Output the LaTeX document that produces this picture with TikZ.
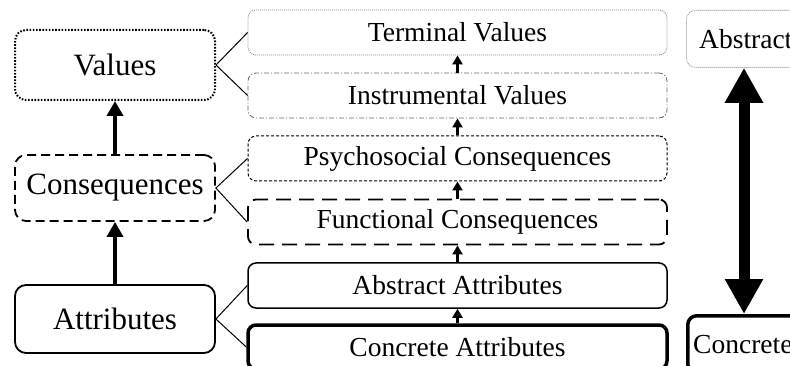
\documentclass[tikz,border=0pt]{standalone}
\usepackage{fontspec}
\setmainfont{Liberation Serif}
\usetikzlibrary{arrows.meta}

\tikzset{
  lbox/.style={draw, rounded corners=11pt, minimum width=200pt, inner sep=0pt,
    font=\fontsize{31}{34}\selectfont},
  rbox/.style={draw, rounded corners=8pt, minimum width=419pt, minimum height=45pt,
    inner sep=0pt, font=\fontsize{27.5}{30}\selectfont},
  sidebox/.style={draw, rounded corners=9pt, minimum width=220pt, minimum height=57pt,
    inner sep=0pt, anchor=north west},
  sidetext/.style={anchor=west, inner sep=0pt, font=\fontsize{27.5}{30}\selectfont},
  faint/.style={draw=black!45, line width=0.8pt, dash pattern=on 1pt off 1pt},
  dashdot/.style={draw=black!60, line width=0.8pt, dash pattern=on 5pt off 2pt on 1pt off 2pt},
  fine dash/.style={line width=1pt, dash pattern=on 3pt off 2pt},
  long dash/.style={line width=1.8pt, dash pattern=on 15pt off 8pt},
  dot line/.style={line width=2pt, dash pattern=on 1.6pt off 1.6pt},
  mid dash/.style={line width=1.8pt, dash pattern=on 9pt off 5pt},
  link/.style={line width=1pt},
  bigup/.style={line width=4.5pt, -{Triangle[width=16pt,length=15pt]}},
  smallup/.style={line width=2.5pt, -{Triangle[width=10pt,length=9pt]}},
  bothways/.style={line width=11pt, {Triangle[width=36pt,length=35pt]}-{Triangle[width=36pt,length=35pt]}}
}

\begin{document}
\begin{tikzpicture}[x=1pt, y=-1pt]
  \useasboundingbox (0,0) rectangle (790,366);

  % three main levels
  \node (val) [lbox, dot line, minimum height=70pt] at (115,65) {Values};
  \node (con) [lbox, mid dash, minimum height=66pt] at (115,188) {Consequences};
  \node (att) [lbox, line width=1.8pt, minimum height=68pt] at (115,319) {Attributes};

  \draw[bigup] (con.north) -- (val.south);
  \draw[bigup] (att.north) -- (con.south);

  % six sub-levels
  \node (tv) [rbox, faint] at (457.5,32.5) {Terminal Values};
  \node (iv) [rbox, dashdot] at (457.5,95.5) {Instrumental Values};
  \node (pc) [rbox, fine dash] at (457.5,158.5) {Psychosocial Consequences};
  \node (fc) [rbox, long dash] at (457.5,222) {Functional Consequences};
  \node (aa) [rbox, line width=1.5pt] at (457.5,285.5) {Abstract Attributes};
  \node (ca) [rbox, line width=3.5pt, minimum height=44pt] at (457.5,347) {Concrete Attributes};

  \draw[smallup] (iv.north) -- (tv.south);
  \draw[smallup] (pc.north) -- (iv.south);
  \draw[smallup] (fc.north) -- (pc.south);
  \draw[smallup] (aa.north) -- (fc.south);
  \draw[smallup] (ca.north) -- (aa.south);

  % links from each level to its two sub-levels
  \draw[link] (tv.west) -- (val.east) -- (iv.west);
  \draw[link] (pc.west) -- (con.east) -- (fc.west);
  \draw[link] (aa.west) -- (att.east) -- (ca.west);

  % abstract / concrete scale
  \node (ab) [sidebox, faint] at (686,10) {};
  \node [sidetext] at ([xshift=13pt]ab.west) {Abstract};
  \node (cc) [sidebox, line width=3.5pt] at (686,314) {};
  \node [sidetext] at ([xshift=7pt,yshift=-0.5pt]cc.west) {Concrete};

  \draw[bothways] (ab.south -| 744,0) -- (cc.north -| 744,0);
\end{tikzpicture}
\end{document}
